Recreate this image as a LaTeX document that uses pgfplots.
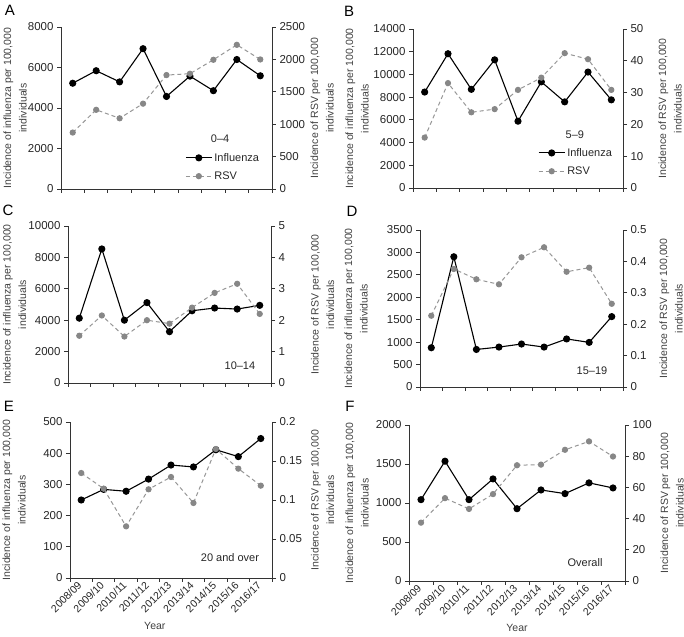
\documentclass[border=0pt]{standalone}
\usepackage{fontspec}
\setmainfont{Liberation Sans}
\usepackage{pgfplots}
\pgfplotsset{compat=1.18}

\definecolor{rsvline}{RGB}{150,150,150}
\definecolor{rsvmark}{RGB}{135,135,135}

\pgfplotsset{
  pan/.style={
    scale only axis, xmin=0, xmax=9, ymin=0, clip=false,
    tick align=outside, major tick length=4pt, minor tick length=4pt,
    axis line style={line width=0.9pt, black!80},
    tick style={line width=0.8pt, black!80},
    ticklabel style={font=\fontsize{11.5}{14}\selectfont, text=black!85},
    scaled y ticks=false,
    /pgf/number format/.cd, fixed, precision=2, 1000 sep={}, assume math mode=true, /pgfplots/.cd,
    xlabel style={font=\fontsize{10.5}{12}\selectfont, text=black!75},
    ylabel style={font=\fontsize{10.5}{15.5}\selectfont, text=black!75, align=center},
    legend image code/.code={\draw[mark repeat=2,mark phase=2,##1] plot coordinates {(0pt,0pt) (13pt,0pt) (26pt,0pt)};},
  },
  lft/.style={pan, axis y line*=left, axis x line*=bottom, xtick={0,...,9}, xticklabels={}},
  lftyr/.style={pan, axis y line*=left, axis x line*=bottom,
    xtick={0.5,1.5,...,8.5},
    xticklabels={2008/09,2009/10,2010/11,2011/12,2012/13,2013/14,2014/15,2015/16,2016/17},
    minor xtick={0,...,9}, major x tick style={draw=none},
    xticklabel style={rotate=45, anchor=east, font=\fontsize{10.5}{12}\selectfont, inner sep=2pt},
    xlabel={Year}},
  rgt/.style={pan, axis y line*=right, axis x line=none},
  flu/.style={black, line width=1.1pt, mark=*, mark size=3pt, mark options={solid, fill=black}},
  rsv/.style={rsvline, line width=1pt, dash pattern=on 4pt off 3pt, mark=*, mark size=2.6pt,
    mark options={solid, fill=rsvmark, draw=rsvmark}},
  lgd/.style={legend style={draw=none, fill=none, inner sep=0pt, row sep=5pt,
    cells={anchor=west}, font=\fontsize{11}{12}\selectfont, text=black!85}},
}
\newcommand{\fluname}{Incidence of influenza per 100,000\\individuals}
\newcommand{\rsvname}{Incidence of RSV per 100,000\\individuals}

\begin{document}
\begin{tikzpicture}
\useasboundingbox (0pt,0pt) rectangle (684pt,636pt);

% ---- A: 0-4
\begin{axis}[lft, at={(61pt,447pt)}, anchor=south west, width=211pt, height=162pt,
  ymax=8000, ytick={0,2000,...,8000}, ylabel={\fluname},
  ylabel style={at={([xshift=-46pt]axis description cs:0,0.5)}, anchor=center}]
\addplot[flu] coordinates {(0.5,5222) (1.5,5841) (2.5,5289) (3.5,6929) (4.5,4569) (5.5,5573) (6.5,4854) (7.5,6393) (8.5,5590)};
\end{axis}
\begin{axis}[rgt, lgd, at={(61pt,447pt)}, anchor=south west, width=211pt, height=162pt,
  ymax=2500, ytick={0,500,...,2500}, ylabel={\rsvname},
  ylabel style={at={([xshift=50pt]axis description cs:1,0.5)}, anchor=center},
  legend style={at={(axis description cs:0.588,0.235)}, anchor=north west}]
\addlegendimage{flu}\addlegendentry{Influenza}
\addplot[rsv] coordinates {(0.5,871) (1.5,1222) (2.5,1091) (3.5,1317) (4.5,1758) (5.5,1779) (6.5,1994) (7.5,2225) (8.5,1999)};
\addlegendentry{RSV}
\node[font=\fontsize{11}{12}\selectfont, text=black!85] at (axis description cs:0.754,0.309) {0–4};
\end{axis}

% ---- B: 5-9
\begin{axis}[lft, at={(413pt,448pt)}, anchor=south west, width=210pt, height=159pt,
  ymax=14000, ytick={0,2000,...,14000}, ylabel={\fluname},
  ylabel style={at={([xshift=-56pt]axis description cs:0,0.5)}, anchor=center}]
\addplot[flu] coordinates {(0.5,8448) (1.5,11821) (2.5,8687) (3.5,11284) (4.5,5881) (5.5,9343) (6.5,7582) (7.5,10209) (8.5,7761)};
\end{axis}
\begin{axis}[rgt, lgd, at={(413pt,448pt)}, anchor=south west, width=210pt, height=159pt,
  ymax=50, ytick={0,10,...,50}, ylabel={\rsvname},
  ylabel style={at={([xshift=47pt]axis description cs:1,0.5)}, anchor=center},
  legend style={at={(axis description cs:0.595,0.264)}, anchor=north west}]
\addlegendimage{flu}\addlegendentry{Influenza}
\addplot[rsv] coordinates {(0.5,15.85) (1.5,32.98) (2.5,23.8) (3.5,24.8) (4.5,30.85) (5.5,34.7) (6.5,42.4) (7.5,40.5) (8.5,30.85)};
\addlegendentry{RSV}
\node[font=\fontsize{11}{12}\selectfont, text=black!85] at (axis description cs:0.771,0.333) {5–9};
\end{axis}

% ---- C: 10-14
\begin{axis}[lft, at={(68pt,253pt)}, anchor=south west, width=203pt, height=157pt,
  ymax=10000, ytick={0,2000,...,10000}, ylabel={\fluname},
  ylabel style={at={([xshift=-53.5pt]axis description cs:0,0.5)}, anchor=center}]
\addplot[flu] coordinates {(0.5,4129) (1.5,8538) (2.5,4000) (3.5,5118) (4.5,3269) (5.5,4602) (6.5,4774) (7.5,4710) (8.5,4946)};
\end{axis}
\begin{axis}[rgt, at={(68pt,253pt)}, anchor=south west, width=203pt, height=157pt,
  ymax=5, ytick={0,1,...,5}, ylabel={\rsvname},
  ylabel style={at={([xshift=51.5pt]axis description cs:1,0.5)}, anchor=center}]
\addplot[rsv] coordinates {(0.5,1.505) (1.5,2.15) (2.5,1.48) (3.5,2.0) (4.5,1.89) (5.5,2.40) (6.5,2.87) (7.5,3.16) (8.5,2.20)};
\node[font=\fontsize{11}{12}\selectfont, text=black!85] at (axis description cs:0.847,0.108) {10–14};
\end{axis}

% ---- D: 15-19
\begin{axis}[lft, at={(420pt,249pt)}, anchor=south west, width=203pt, height=157pt,
  ymax=3500, ytick={0,500,...,3500}, ylabel={\fluname},
  ylabel style={at={([xshift=-64pt]axis description cs:0,0.5)}, anchor=center}]
\addplot[flu] coordinates {(0.5,875) (1.5,2903) (2.5,837) (3.5,890) (4.5,958) (5.5,890) (6.5,1071) (7.5,995) (8.5,1569)};
\end{axis}
\begin{axis}[rgt, at={(420pt,249pt)}, anchor=south west, width=203pt, height=157pt,
  ymax=0.5, ytick={0,0.1,...,0.5}, ylabel={\rsvname},
  ylabel style={at={([xshift=48pt]axis description cs:1,0.5)}, anchor=center}]
\addplot[rsv] coordinates {(0.5,0.227) (1.5,0.376) (2.5,0.343) (3.5,0.327) (4.5,0.413) (5.5,0.445) (6.5,0.367) (7.5,0.380) (8.5,0.265)};
\node[font=\fontsize{11}{12}\selectfont, text=black!85] at (axis description cs:0.847,0.102) {15–19};
\end{axis}

% ---- E: 20 and over
\begin{axis}[lftyr, at={(70pt,58pt)}, anchor=south west, width=202pt, height=156pt,
  ymax=500, ytick={0,100,...,500}, ylabel={\fluname},
  ylabel style={at={([xshift=-56pt]axis description cs:0,0.5)}, anchor=center},
  xlabel style={at={([yshift=-48pt]axis description cs:0.42,0)}, anchor=center}]
\addplot[flu] coordinates {(0.5,250) (1.5,284) (2.5,278) (3.5,317) (4.5,362) (5.5,356) (6.5,411) (7.5,389) (8.5,447)};
\end{axis}
\begin{axis}[rgt, at={(70pt,58pt)}, anchor=south west, width=202pt, height=156pt,
  ymax=0.2, ytick={0,0.05,...,0.2}, ylabel={\rsvname},
  ylabel style={at={([xshift=50.5pt]axis description cs:1,0.5)}, anchor=center}]
\addplot[rsv] coordinates {(0.5,0.1346) (1.5,0.1145) (2.5,0.0662) (3.5,0.1137) (4.5,0.1295) (5.5,0.0962) (6.5,0.1654) (7.5,0.1402) (8.5,0.1184)};
\node[font=\fontsize{11}{12}\selectfont, text=black!85] at (axis description cs:0.792,0.128) {20 and over};
\end{axis}

% ---- F: Overall
\begin{axis}[lftyr, at={(409pt,55pt)}, anchor=south west, width=216pt, height=156pt,
  ymax=2000, ytick={0,500,...,2000}, ylabel={\fluname},
  ylabel style={at={([xshift=-52pt]axis description cs:0,0.5)}, anchor=center},
  xlabel style={at={([yshift=-47pt]axis description cs:0.5,0)}, anchor=center}]
\addplot[flu] coordinates {(0.5,1043) (1.5,1536) (2.5,1043) (3.5,1309) (4.5,927) (5.5,1167) (6.5,1120) (7.5,1258) (8.5,1193)};
\end{axis}
\begin{axis}[rgt, at={(409pt,55pt)}, anchor=south west, width=216pt, height=156pt,
  ymax=100, ytick={0,20,...,100}, ylabel={\rsvname},
  ylabel style={at={([xshift=47pt]axis description cs:1,0.5)}, anchor=center}]
\addplot[rsv] coordinates {(0.5,37.4) (1.5,53.1) (2.5,46.2) (3.5,55.7) (4.5,74.2) (5.5,74.6) (6.5,84.1) (7.5,89.5) (8.5,79.8)};
\node[font=\fontsize{11}{12}\selectfont, text=black!85] at (axis description cs:0.815,0.115) {Overall};
\end{axis}

% panel letters
\begin{scope}[every node/.style={font=\fontsize{15}{15}\selectfont, text=black}]
\node at (10pt,626pt) {A};
\node at (349pt,625pt) {B};
\node at (8pt,426pt) {C};
\node at (352pt,425pt) {D};
\node at (9pt,230pt) {E};
\node at (350pt,230pt) {F};
\end{scope}
\end{tikzpicture}
\end{document}
